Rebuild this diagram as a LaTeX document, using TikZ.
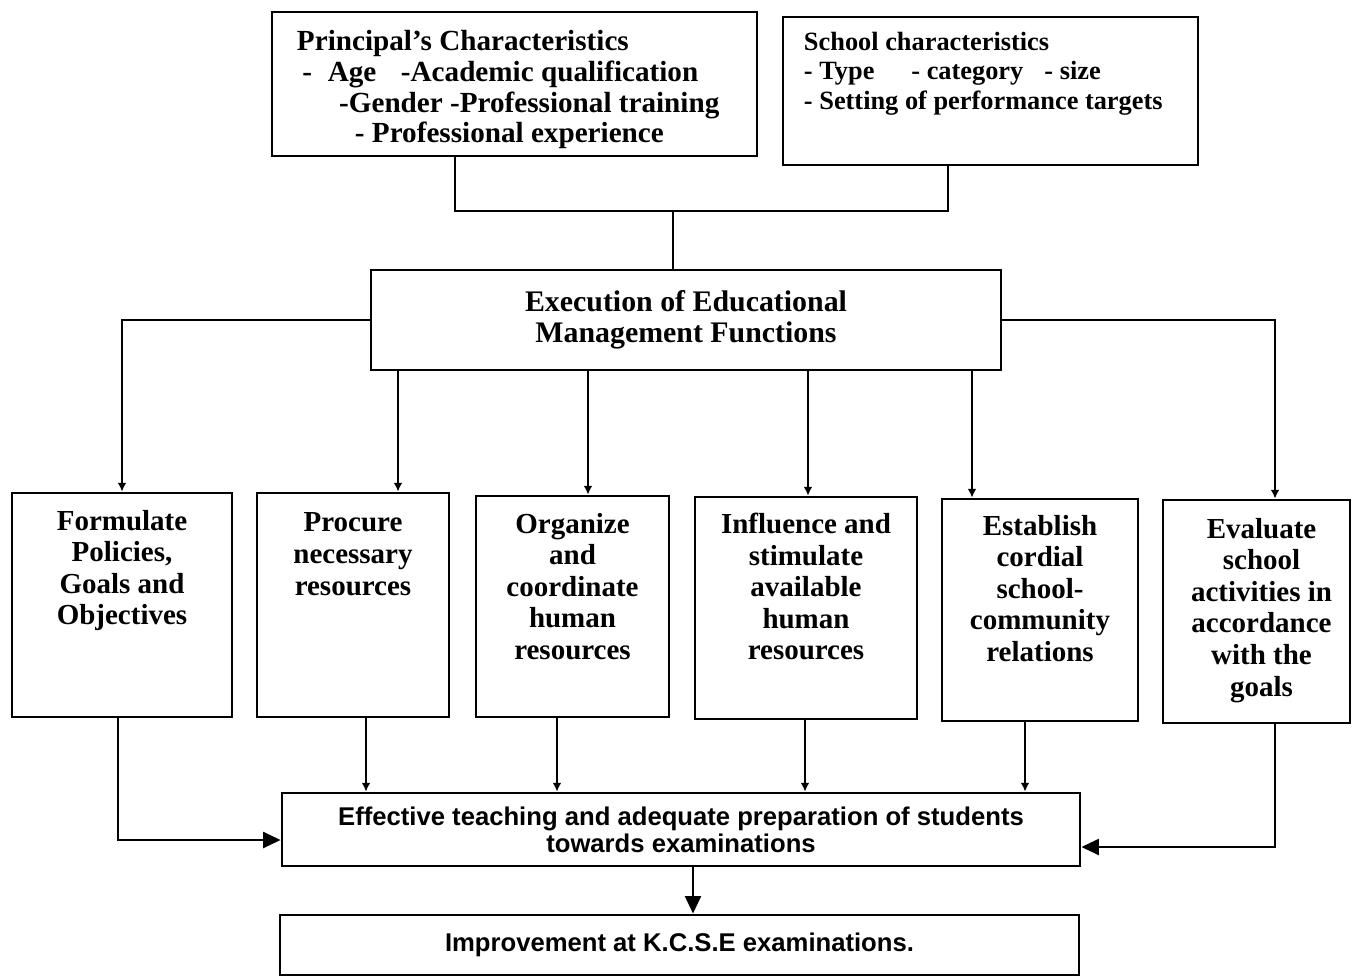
\documentclass[tikz,border=0pt]{standalone}
\usepackage{fontspec}
\setmainfont{Liberation Serif}
\setsansfont{Liberation Sans}
\usetikzlibrary{arrows.meta}

\tikzset{
  box/.style={draw, line width=1.6pt, inner sep=0pt},
  boxtext/.style={font=\bfseries\fontsize{16.5}{18}\selectfont, align=center, inner sep=0pt},
  headtext/.style={font=\bfseries\fontsize{16.6}{17.6}\selectfont, align=left, inner sep=0pt},
  sanstext/.style={font=\sffamily\bfseries\fontsize{14.6}{15.4}\selectfont, align=center},
  wire/.style={line width=1.6pt},
  thin arrow/.style={wire, -{Latex[length=5pt,width=5pt]}},
  fat arrow/.style={wire, -{Triangle[length=10pt,width=9pt]}},
}

\begin{document}
\begin{tikzpicture}[x=0.02cm, y=-0.02cm]
        	\useasboundingbox (0,0) rectangle (1354,979);
        	% Top boxes:
        	\node[box, minimum width=9.70cm, minimum height=2.88cm] (prin) at (514.5, 84){};
        	\node[headtext, anchor=north west] (prin text) at ([xshift=0.52cm, yshift=-0.38cm]prin.north west){Principal's Characteristics\\
        		\hspace*{3pt}-\hspace{9pt}Age\hspace{14pt}-Academic qualification\\
        		\hspace*{24pt}-Gender -Professional training\\
        		\hspace*{33pt}- Professional experience};
        	\node[box, minimum width=8.30cm, minimum height=2.96cm] (school) at (990.5, 91){};
        	\node[headtext, font=\bfseries\fontsize{15}{16.8}\selectfont, anchor=north west] (school text) at ([xshift=0.44cm, yshift=-0.32cm]school.north west){School characteristics\\
        		- Type\hspace{21pt}- category\hspace{12pt}- size\\
        		- Setting of performance targets};
        	\node[box, boxtext, font=\bfseries\fontsize{17}{17.6}\selectfont, minimum width=12.6cm, minimum height=2.0cm] (exec) at (686, 320){Execution of Educational\\Management Functions};
        	% Function boxes:
        	\node[box, minimum width=4.40cm, minimum height=4.48cm] (form) at (122, 605){};
        	\node[box, minimum width=3.84cm, minimum height=4.48cm] (proc) at (353, 605){};
        	\node[box, minimum width=3.86cm, minimum height=4.42cm] (org) at (572.5, 606.5){};
        	\node[box, minimum width=4.44cm, minimum height=4.44cm] (infl) at (806, 608){};
        	\node[box, minimum width=3.92cm, minimum height=4.44cm] (est) at (1040, 610){};
        	\node[box, minimum width=3.74cm, minimum height=4.46cm] (eval) at (1256.5, 611.5){};
        	\node[boxtext, anchor=north] (form text) at ([yshift=-0.36cm]form.north){Formulate\\Policies,\\Goals and\\Objectives};
        	\node[boxtext, anchor=north] (proc text) at ([yshift=-0.42cm]proc.north){Procure\\necessary\\resources};
        	\node[boxtext, anchor=north] (org text) at ([yshift=-0.36cm]org.north){Organize\\and\\coordinate\\human\\resources};
        	\node[boxtext, anchor=north] (infl text) at ([yshift=-0.34cm]infl.north){Influence and\\stimulate\\available\\human\\resources};
        	\node[boxtext, anchor=north] (est text) at ([yshift=-0.34cm]est.north){Establish\\cordial\\school-\\community\\relations};
        	\node[boxtext, anchor=north] (eval text) at ([xshift=0.1cm, yshift=-0.38cm]eval.north){Evaluate\\school\\activities in\\accordance\\with the\\goals};
        	% Bottom boxes:
        	\node[box, sanstext, minimum width=15.96cm, minimum height=1.46cm] (eff) at (681, 829.5){Effective teaching and adequate preparation of students\\towards examinations};
        	\node[box, sanstext, minimum width=15.98cm, minimum height=1.2cm] (imp) at (679.5, 945){Improvement at K.C.S.E examinations.};
        	% Columns for the wires:
        	\coordinate (pa) at (455, 211);
        	\coordinate (sa) at (948, 211);
        	\coordinate (top) at (673, 211);
        	\coordinate (rt) at (1275, 0);
        	\coordinate (d1) at (398, 0);
        	\coordinate (d2) at (588, 0);
        	\coordinate (d3) at (808, 0);
        	\coordinate (d4) at (972, 0);
        	\coordinate (u1) at (366, 0);
        	\coordinate (u2) at (557, 0);
        	\coordinate (u3) at (805, 0);
        	\coordinate (u4) at (1025, 0);
        	\coordinate (lb) at (118, 840);
        	\coordinate (rb) at (1275, 847);
        	\coordinate (mid) at (693, 0);
        	% Wires:
        	\draw[wire] (prin.south -| pa) -- (pa) -- (sa) -- (school.south -| sa);
        	\draw[wire] (top) -- (exec.north -| top);
        	\draw[thin arrow] (exec.west) -| (form.north);
        	\draw[thin arrow] (exec.east) -| (eval.north -| rt);
        	\foreach \c/\b in {d1/proc, d2/org, d3/infl, d4/est}
        		\draw[thin arrow] (exec.south -| \c) -- (\b.north -| \c);
        	\foreach \c/\b in {u1/proc, u2/org, u3/infl, u4/est}
        		\draw[thin arrow] (\b.south -| \c) -- (eff.north -| \c);
        	\draw[fat arrow] (form.south -| lb) |- (eff.west |- lb);
        	\draw[fat arrow] (eval.south -| rb) |- (eff.east |- rb);
        	\draw[fat arrow] (eff.south -| mid) -- (imp.north -| mid);
\end{tikzpicture}
\end{document}
